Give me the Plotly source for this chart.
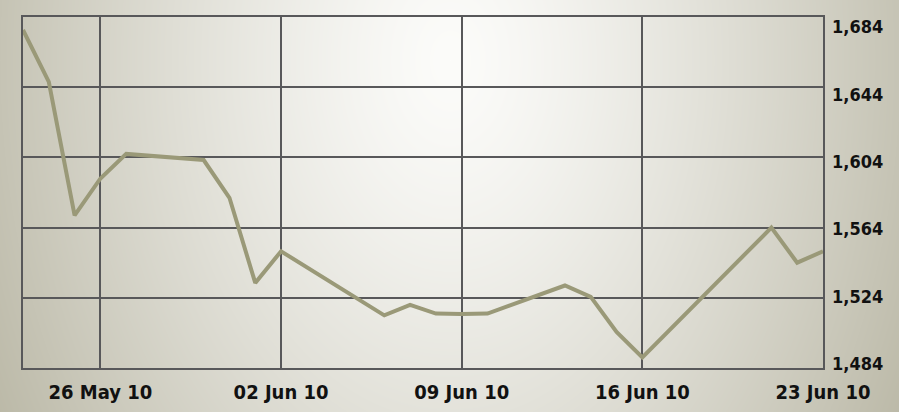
import base64
import struct
import zlib

import numpy as np
import plotly.graph_objects as go

# ---------------- data ----------------
dates = ['2010-05-23', '2010-05-24', '2010-05-25', '2010-05-26', '2010-05-27',
         '2010-05-30', '2010-05-31', '2010-06-01', '2010-06-02', '2010-06-06',
         '2010-06-07', '2010-06-08', '2010-06-09', '2010-06-10', '2010-06-13',
         '2010-06-14', '2010-06-15', '2010-06-16', '2010-06-21', '2010-06-22',
         '2010-06-23']
values = [1676.6, 1647.0, 1571.0, 1592.0, 1606.0,
          1602.5, 1581.0, 1532.5, 1550.5, 1514.0,
          1520.0, 1515.0, 1514.8, 1515.0, 1531.0,
          1524.5, 1504.5, 1490.0, 1564.0, 1544.0,
          1550.5]

x_tick_vals = ['2010-05-26', '2010-06-02', '2010-06-09', '2010-06-16', '2010-06-23']
x_tick_text = ['26 May 10', '02 Jun 10', '09 Jun 10', '16 Jun 10', '23 Jun 10']
y_tick_vals = [1484, 1524, 1564, 1604, 1644, 1684]
y_tick_text = ['1,484', '1,524', '1,564', '1,604', '1,644', '1,684']

# ---------------- background gradient image ----------------
W, H = 899, 412
X, Y = np.meshgrid(np.arange(W), np.arange(H))
t = np.sqrt(((X - 450) / 450.0) ** 2 + ((Y - 60) / 650.0) ** 2)
f = np.clip(t, 0, 1.15) ** 1.3
c0 = np.array([252, 252, 250], dtype=float)
c1 = np.array([198, 196, 181], dtype=float)
img = (c0[None, None, :] + (c1 - c0)[None, None, :] * f[:, :, None])
img = np.clip(img, 0, 255).astype(np.uint8)


def png_uri(arr):
    h, w, _ = arr.shape
    raw = b''.join(b'\x00' + arr[i].tobytes() for i in range(h))

    def chunk(tag, data):
        c = struct.pack('>I', len(data)) + tag + data
        return c + struct.pack('>I', zlib.crc32(tag + data) & 0xffffffff)

    png = (b'\x89PNG\r\n\x1a\n'
           + chunk(b'IHDR', struct.pack('>IIBBBBB', w, h, 8, 2, 0, 0, 0))
           + chunk(b'IDAT', zlib.compress(raw, 9))
           + chunk(b'IEND', b''))
    return 'data:image/png;base64,' + base64.b64encode(png).decode()


ML, MR, MT, MB = 23, 76, 17, 44
PW, PH = W - ML - MR, H - MT - MB

grid_col = '#58585a'
font_fam = 'Liberation Sans Narrow, DejaVu Sans Condensed, Arial Narrow, sans-serif'

fig = go.Figure()
fig.add_trace(go.Scatter(
    x=dates, y=values, mode='lines',
    line=dict(color='#9a9978', width=4),
    hoverinfo='skip', showlegend=False,
))
# invisible trace to activate right-hand label axis
fig.add_trace(go.Scatter(
    x=[dates[0]], y=[values[0]], yaxis='y2', mode='markers',
    marker=dict(opacity=0), hoverinfo='skip', showlegend=False,
))

fig.update_layout(
    width=W, height=H,
    margin=dict(l=ML, r=MR, t=MT, b=MB, pad=0, autoexpand=False),
    paper_bgcolor='#d6d5ca',
    plot_bgcolor='rgba(0,0,0,0)',
    images=[dict(
        source=png_uri(img), xref='paper', yref='paper',
        x=-ML / PW, y=1 + MT / PH, sizex=W / PW, sizey=H / PH,
        xanchor='left', yanchor='top', sizing='stretch', layer='below',
    )],
    xaxis=dict(
        type='date', range=['2010-05-23', '2010-06-23'],
        tickvals=x_tick_vals, ticktext=x_tick_text,
        showgrid=True, gridcolor=grid_col, gridwidth=1.6,
        showline=True, linecolor=grid_col, linewidth=2, mirror=True,
        ticks='', ticklabelstandoff=5, automargin=False,
        tickfont=dict(family=font_fam, size=20, color='#111111', weight='bold'),
        zeroline=False,
    ),
    yaxis=dict(
        range=[1484, 1684], tickvals=y_tick_vals, showticklabels=False,
        showgrid=True, gridcolor=grid_col, gridwidth=1.6,
        showline=True, linecolor=grid_col, linewidth=2, mirror=True,
        ticks='', zeroline=False, automargin=False,
    ),
    yaxis2=dict(
        overlaying='y', side='right',
        range=[1481.6, 1689.9], tickvals=y_tick_vals, ticktext=y_tick_text,
        showgrid=False, showline=False, zeroline=False, ticks='',
        ticklabelstandoff=8, automargin=False,
        tickfont=dict(family=font_fam, size=18, color='#111111', weight='bold'),
    ),
)

fig.write_html(
    'out.html',
    config={'displayModeBar': False},
    post_script="document.body.style.margin='0';document.body.style.overflow='hidden';",
)
